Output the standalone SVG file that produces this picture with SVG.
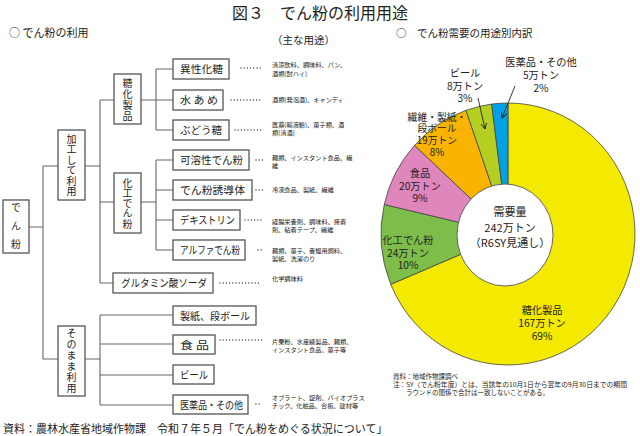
<svg xmlns="http://www.w3.org/2000/svg" width="640" height="436" viewBox="0 0 640 436">
<defs>
<style>
text{font-family:"Noto Sans CJK JP","Noto Sans",sans-serif;fill:#222}
.box{fill:#fff;stroke:#555;stroke-width:1.3}
.ln{stroke:#666;stroke-width:1.1;fill:none}
.dots{stroke:#333;stroke-width:1.3;stroke-dasharray:0 3.2;stroke-linecap:round;fill:none}
.bl{font-size:10.5px}
.vt{font-size:10px;text-anchor:middle;writing-mode:vertical-rl}
.ds{font-size:6.2px}
.pl{font-size:10.2px;text-anchor:middle}
.sl{stroke:#444;stroke-width:0.8}
.arr{stroke:#222;stroke-width:0.9;fill:none;marker-end:url(#ah)}
.fn{font-size:6.5px}
</style>
<marker id="ah" viewBox="0 0 10 10" refX="9" refY="5" markerWidth="7" markerHeight="7" orient="auto" markerUnits="userSpaceOnUse">
<polyline points="1,1 9,5 1,9" fill="none" stroke="#222" stroke-width="1.3"/>
</marker>
</defs>
<rect width="640" height="436" fill="#fff"/>

<text x="232" y="19" style="font-size:16px">図３　でん粉の利用用途</text>
<text x="9" y="37" style="font-size:11px">○ でん粉の利用</text>
<text x="272" y="44" style="font-size:10.5px">（主な用途）</text>
<text x="396" y="37" style="font-size:10.5px">○　でん粉需要の用途別内訳</text>

<g id="connectors">
<path class="ln" d="M29,227H43M43,166V359M43,166H58M43,359H58"/>
<path class="ln" d="M85,166H100M100,100V283M100,100H114M100,202H114M100,283H113"/>
<path class="ln" d="M141,100H173M156,69V130M156,69H173M156,130H173"/>
<path class="ln" d="M141,202H156M156,160V250M156,160H173M156,190H173M156,220H173M156,250H173"/>
<path class="ln" d="M85,359H100M100,315V405M100,315H173M100,344H173M100,375H173M100,405H173"/>
<path class="dots" d="M241,68H263M231,100H263M235,130H263M256,160H263M256,190H263M245,220H263M258,250H262M220,283H259M220,340H263M256,404H260"/>
</g>

<g id="n-denpun"><rect class="box" x="3" y="200" width="26" height="53"/>
<text class="vt" x="16" y="230" style="letter-spacing:8.5px">でん粉</text></g>

<g id="n-kakou"><rect class="box" x="58" y="130" width="27" height="70"/>
<text class="vt" x="71.5" y="165.5" style="letter-spacing:0.5px">加工して利用</text></g>

<g id="n-sonomama"><rect class="box" x="58" y="326" width="27" height="70"/>
<text class="vt" x="71.5" y="361.5" style="letter-spacing:1px">そのまま利用</text></g>

<g id="n-touka"><rect class="box" x="114" y="74" width="27" height="50"/>
<text class="vt" x="127.5" y="100" style="letter-spacing:1px">糖化製品</text></g>

<g id="n-kakoudenpun"><rect class="box" x="114" y="173" width="27" height="60"/>
<text class="vt" x="127.5" y="203.5" style="letter-spacing:0.3px">化工でん粉</text></g>

<g id="n-iseika"><rect class="box" x="173" y="59" width="56" height="20"/>
<text class="bl" x="180" y="73" textLength="43" lengthAdjust="spacingAndGlyphs">異性化糖</text>
<text class="ds" x="272" y="67">清涼飲料、調味料、パン、</text><text class="ds" x="272" y="75.5">酒類(酎ハイ)</text></g>

<g id="n-mizuame"><rect class="box" x="173" y="90" width="50" height="20"/>
<text class="bl" x="180" y="104" textLength="38" lengthAdjust="spacingAndGlyphs">水 あ め</text>
<text class="ds" x="272" y="101.5">酒類(発泡酒)、キャンディ</text></g>

<g id="n-budou"><rect class="box" x="173" y="120" width="56" height="20"/>
<text class="bl" x="180" y="134" textLength="42" lengthAdjust="spacingAndGlyphs">ぶどう糖</text>
<text class="ds" x="272" y="126.5">医薬(輸液糖)、菓子類、酒</text><text class="ds" x="272" y="135">類(清酒)</text></g>

<g id="n-kayousei"><rect class="box" x="173" y="150" width="76" height="20"/>
<text class="bl" x="180" y="164" textLength="63" lengthAdjust="spacingAndGlyphs">可溶性でん粉</text>
<text class="ds" x="272" y="159.5">麺類、インスタント食品、繊</text><text class="ds" x="272" y="167.5">維</text></g>

<g id="n-yuudoutai"><rect class="box" x="173" y="180" width="79" height="20"/>
<text class="bl" x="180" y="194" textLength="65" lengthAdjust="spacingAndGlyphs">でん粉誘導体</text>
<text class="ds" x="272" y="191.5">冷凍食品、製紙、繊維</text></g>

<g id="n-dextrin"><rect class="box" x="173" y="210" width="67" height="20"/>
<text class="bl" x="180" y="224" textLength="55" lengthAdjust="spacingAndGlyphs">デキストリン</text>
<text class="ds" x="272" y="223.5">経腸栄養剤、調味料、接着</text><text class="ds" x="272" y="231.5">剤、粘着テープ、繊維</text></g>

<g id="n-alpha"><rect class="box" x="173" y="240" width="72" height="20"/>
<text class="bl" x="180" y="254" textLength="60" lengthAdjust="spacingAndGlyphs">アルファでん粉</text>
<text class="ds" x="272" y="252.5">麺類、菓子、養鰻用飼料、</text><text class="ds" x="272" y="260.5">製紙、洗濯のり</text></g>

<g id="n-glutamin"><rect class="box" x="113" y="273" width="100" height="20"/>
<text class="bl" x="121" y="287" textLength="86" lengthAdjust="spacingAndGlyphs">グルタミン酸ソーダ</text>
<text class="ds" x="272" y="281">化学調味料</text></g>

<g id="n-seishi"><rect class="box" x="173" y="306" width="83" height="19"/>
<text class="bl" x="180" y="319.5" textLength="70" lengthAdjust="spacingAndGlyphs">製紙、段ボール</text></g>

<g id="n-shokuhin"><rect class="box" x="173" y="335" width="42" height="19"/>
<text class="bl" x="180" y="348.5" textLength="29" lengthAdjust="spacingAndGlyphs">食 品</text>
<text class="ds" x="272" y="344">片栗粉、水産練製品、麺類、</text><text class="ds" x="272" y="352">インスタント食品、菓子等</text></g>

<g id="n-beer"><rect class="box" x="173" y="365" width="41" height="19"/>
<text class="bl" x="180" y="378.5" textLength="28" lengthAdjust="spacingAndGlyphs">ビール</text></g>

<g id="n-iyaku"><rect class="box" x="173" y="395" width="75" height="19"/>
<text class="bl" x="180" y="408.5" textLength="63" lengthAdjust="spacingAndGlyphs">医薬品・その他</text>
<text class="ds" x="272" y="400">オブラート、錠剤、バイオプラス</text><text class="ds" x="272" y="408">チック、化粧品、合板、建材等</text></g>

<text x="3" y="433" style="font-size:11px">資料：農林水産省地域作物課　令和７年５月「でん粉をめぐる状況について」</text>

<g id="pie">
<path class="sl" fill="#F3EA00" d="M508,234 L508,103 A127,131 0 1 1 390.75,284.34 Z"/>
<path class="sl" fill="#7DBE4A" d="M508,234 L390.75,284.34 A127,131 0 0 1 384.25,204.53 Z"/>
<path class="sl" fill="#DF86BC" d="M508,234 L384.25,204.53 A127,131 0 0 1 414.55,145.30 Z"/>
<path class="sl" fill="#F8B400" d="M508,234 L414.55,145.30 A127,131 0 0 1 466.02,110.36 Z"/>
<path class="sl" fill="#B4CF22" d="M508,234 L466.02,110.36 A127,131 0 0 1 491.64,104.09 Z"/>
<path class="sl" fill="#00A2E5" d="M508,234 L491.64,104.09 A127,131 0 0 1 508,103 Z"/>
<ellipse cx="505" cy="235" rx="48" ry="51" fill="#fff" stroke="#555" stroke-width="0.9"/>
</g>

<g id="pie-labels">
<text class="pl" style="font-size:11px"><tspan x="510" y="216">需要量</tspan><tspan x="510" y="232">242万トン</tspan><tspan x="510" y="247">（R6SY見通し）</tspan></text>
<text class="pl"><tspan x="541" y="66">医薬品・その他</tspan><tspan x="541" y="79">5万トン</tspan><tspan x="541" y="92">2%</tspan></text>
<text class="pl"><tspan x="465" y="77">ビール</tspan><tspan x="465" y="89.5">8万トン</tspan><tspan x="465" y="102">3%</tspan></text>
<text class="pl" style="font-size:9.8px"><tspan x="437" y="120.5">繊維・製紙・</tspan><tspan x="437" y="132.3">段ボール</tspan><tspan x="437" y="144.1">19万トン</tspan><tspan x="437" y="155.9">8%</tspan></text>
<text class="pl"><tspan x="420" y="177">食品</tspan><tspan x="420" y="189.5">20万トン</tspan><tspan x="420" y="202">9%</tspan></text>
<text class="pl"><tspan x="408" y="244">化工でん粉</tspan><tspan x="408" y="256.5">24万トン</tspan><tspan x="408" y="269">10%</tspan></text>
<text class="pl"><tspan x="542" y="314">糖化製品</tspan><tspan x="542" y="327">167万トン</tspan><tspan x="542" y="340">69%</tspan></text>
</g>

<g id="arrows">
<line class="arr" x1="515" y1="86" x2="502" y2="118"/>
<line class="arr" x1="478" y1="98" x2="485" y2="129"/>
</g>

<g id="notes">
<text class="fn" x="393" y="379">資料：地域作物課調べ</text>
<text class="fn" x="393" y="387">注：</text>
<text class="fn" x="406" y="387" textLength="221" lengthAdjust="spacingAndGlyphs">SY（でん粉年度）とは、当該年の10月1日から翌年の9月30日までの期間</text>
<text class="fn" x="406" y="395">ラウンドの関係で合計は一致しないことがある。</text>
</g>
</svg>
